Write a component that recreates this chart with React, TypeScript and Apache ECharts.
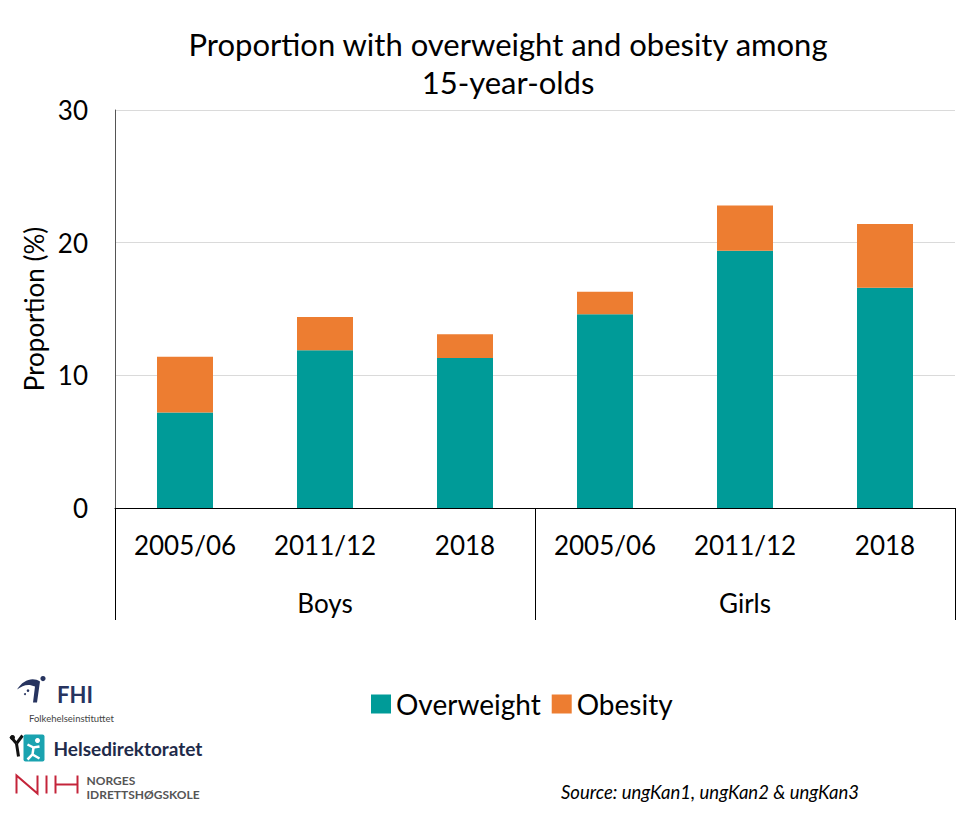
import React, { useEffect, useRef } from "react";
import * as echarts from "echarts";

const years = ["2005/06", "2011/12", "2018", "2005/06", "2011/12", "2018"];
const groups = ["Boys", "Girls"];
const overweight = [7.2, 11.9, 11.3, 14.6, 19.4, 16.6];
const obesity = [4.2, 2.5, 1.8, 1.7, 3.4, 4.8];
const yTicks = { min: 0, max: 30, interval: 10 };

const TEAL = "#009B98";
const ORANGE = "#ED7D31";
const FONT = "Lato, 'Open Sans', sans-serif";
const NAVY = "#27345F";

echarts.graphic.registerShape(
  "fhiSwoosh",
  echarts.graphic.extendPath(
    "M0 13 C6 3 16 0 23 5 L20 26 L16 26 L18 10 C12 7 6 8 0 13 Z",
    {}
  ) as any
);

export default function App() {
  const ref = useRef<HTMLDivElement>(null);
  useEffect(() => {
    if (!ref.current) return;
    const chart = echarts.init(ref.current, null, { renderer: "svg" });
    chart.setOption({
      animation: false,
      textStyle: { fontFamily: FONT },
      title: {
        text: "Proportion with overweight and obesity among\n15-year-olds",
        left: 508,
        textAlign: "center",
        top: 25,
        padding: 0,
        textStyle: {
          fontFamily: FONT,
          fontSize: 31,
          fontWeight: "normal",
          color: "#000",
          lineHeight: 38,
        },
      },
      legend: {
        left: 366,
        top: 685,
        icon: "rect",
        itemWidth: 20,
        itemHeight: 19,
        itemGap: 11,
        textStyle: { fontFamily: FONT, fontSize: 28, color: "#000" },
        data: ["Overweight", "Obesity"],
      },
      grid: { left: 115, right: 15, top: 110, bottom: 312, containLabel: false },
      xAxis: [
        {
          type: "category",
          data: years,
          axisLine: { show: true, lineStyle: { color: "#000", width: 1 } },
          axisTick: { show: false },
          axisLabel: { fontFamily: FONT, fontSize: 26, color: "#000", margin: 24, interval: 0 },
        },
        {
          type: "category",
          data: groups,
          position: "bottom",
          offset: 0,
          axisLine: { show: false },
          axisTick: { show: true, length: 112, interval: 0, lineStyle: { color: "#000", width: 1 } },
          axisLabel: { fontFamily: FONT, fontSize: 26, color: "#000", margin: 82, interval: 0 },
        },
      ],
      yAxis: {
        type: "value",
        min: yTicks.min,
        max: yTicks.max,
        interval: yTicks.interval,
        name: "Proportion (%)",
        nameLocation: "middle",
        nameRotate: 90,
        nameGap: 65,
        nameTextStyle: { fontFamily: FONT, fontSize: 26, color: "#000" },
        axisLine: { show: true, lineStyle: { color: "#555", width: 1 } },
        axisTick: { show: false },
        axisLabel: { fontFamily: FONT, fontSize: 26, color: "#000", margin: 27 },
        splitLine: { show: true, lineStyle: { color: "#DADADA", width: 1 } },
      },
      series: [
        {
          name: "Overweight",
          type: "bar",
          stack: "total",
          barWidth: "40%",
          itemStyle: { color: TEAL },
          data: overweight,
        },
        {
          name: "Obesity",
          type: "bar",
          stack: "total",
          barWidth: "40%",
          itemStyle: { color: ORANGE },
          data: obesity,
        },
      ],
      graphic: [
        {
          type: "text",
          left: 561,
          top: 782,
          style: {
            text: "Source: ungKan1, ungKan2 & ungKan3",
            fontFamily: FONT,
            fontStyle: "italic",
            fontSize: 18.5,
            fill: "#000",
          },
        },
        {
          type: "group",
          left: 17,
          top: 676,
          children: [
            { type: "fhiSwoosh", x: 0, y: 1, style: { fill: NAVY } },
            { type: "circle", shape: { cx: 26, cy: 3, r: 2.6 }, style: { fill: NAVY } },
            { type: "circle", shape: { cx: 11, cy: 15, r: 1.3 }, style: { fill: NAVY } },
            { type: "circle", shape: { cx: 8, cy: 18.5, r: 1 }, style: { fill: NAVY } },
            {
              type: "text",
              x: 40,
              y: 8,
              style: { text: "FHI", fontFamily: FONT, fontWeight: "bold", fontSize: 22, fill: NAVY },
            },
            {
              type: "text",
              x: 12,
              y: 38,
              style: { text: "Folkehelseinstituttet", fontFamily: FONT, fontSize: 9.5, fill: "#444" },
            },
          ],
        },
        {
          type: "group",
          left: 8,
          top: 733,
          children: [
            { type: "line", shape: { x1: 1, y1: 2, x2: 7, y2: 9 }, style: { stroke: "#111", lineWidth: 3 } },
            { type: "line", shape: { x1: 13, y1: 1, x2: 7, y2: 9 }, style: { stroke: "#111", lineWidth: 3 } },
            { type: "line", shape: { x1: 7, y1: 9, x2: 9, y2: 22 }, style: { stroke: "#111", lineWidth: 3 } },
            { type: "circle", shape: { cx: 3, cy: 3, r: 2.5 }, style: { fill: "#111" } },
            { type: "rect", shape: { x: 14, y: 0, width: 21, height: 27, r: 2 }, style: { fill: "#1AA3B0" } },
            { type: "circle", shape: { cx: 28, cy: 6, r: 2.5 }, style: { fill: "#fff" } },
            {
              type: "polyline",
              shape: { points: [[18, 10], [24, 13], [30, 12]] },
              style: { stroke: "#fff", lineWidth: 2.5, fill: "none" },
            },
            {
              type: "polyline",
              shape: { points: [[24, 13], [23, 20], [18, 25]] },
              style: { stroke: "#fff", lineWidth: 2.5, fill: "none" },
            },
            {
              type: "line",
              shape: { x1: 23, y1: 20, x2: 30, y2: 24 },
              style: { stroke: "#fff", lineWidth: 2.5 },
            },
            {
              type: "text",
              x: 44,
              y: 4,
              style: { text: "Helsedirektoratet", fontFamily: FONT, fontWeight: "bold", fontSize: 19, fill: "#1F2B4A" },
            },
          ],
        },
        {
          type: "group",
          left: 14,
          top: 773,
          children: [
            {
              type: "polyline",
              shape: { points: [[1, 19], [1, 1], [22, 19], [22, 1]] },
              style: { stroke: "#C4243A", lineWidth: 2, fill: "none" },
            },
            { type: "line", shape: { x1: 31, y1: 1, x2: 31, y2: 19 }, style: { stroke: "#C4243A", lineWidth: 2 } },
            { type: "line", shape: { x1: 40, y1: 1, x2: 40, y2: 19 }, style: { stroke: "#C4243A", lineWidth: 2 } },
            { type: "line", shape: { x1: 62, y1: 1, x2: 62, y2: 19 }, style: { stroke: "#C4243A", lineWidth: 2 } },
            { type: "line", shape: { x1: 40, y1: 10, x2: 62, y2: 10 }, style: { stroke: "#C4243A", lineWidth: 2 } },
            {
              type: "text",
              x: 71,
              y: 0,
              style: { text: "NORGES", fontFamily: FONT, fontWeight: "bold", fontSize: 12, fill: "#555" },
            },
            {
              type: "text",
              x: 71,
              y: 14,
              style: { text: "IDRETTSHØGSKOLE", fontFamily: FONT, fontWeight: "bold", fontSize: 12, fill: "#555" },
            },
          ],
        },
      ],
    });
    return () => chart.dispose();
  }, []);
  return (
    <div
      ref={ref}
      style={{ position: "absolute", left: 0, top: 0, width: 970, height: 820, background: "#fff" }}
    />
  );
}
